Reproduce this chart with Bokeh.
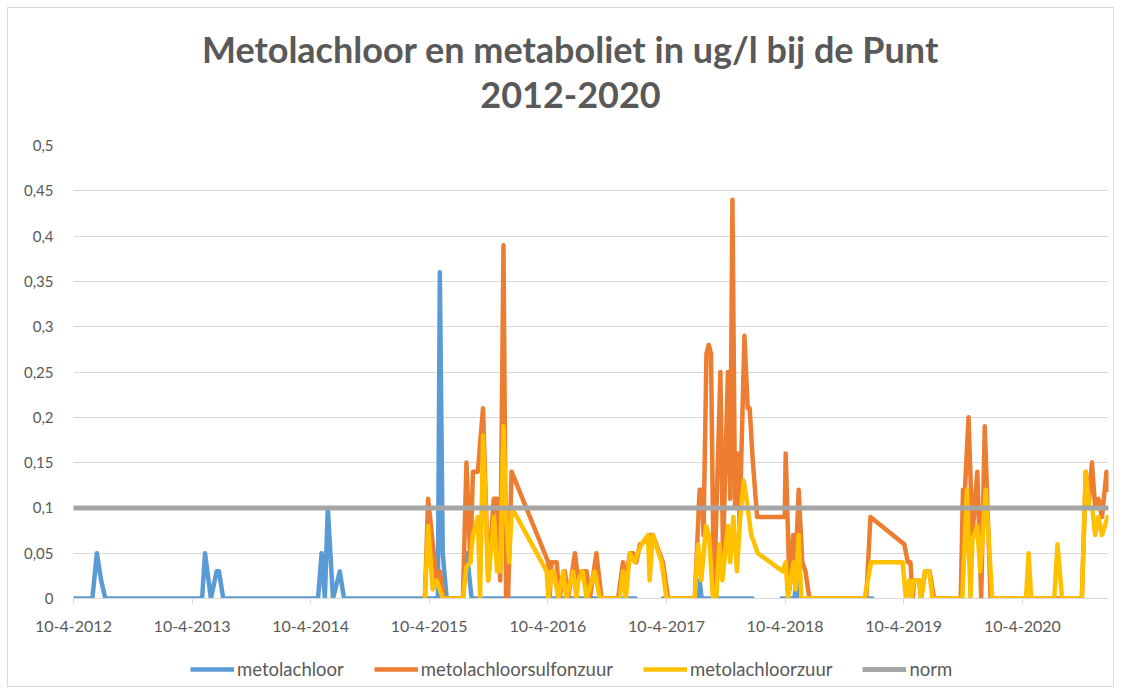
import numpy as np
import pandas as pd
from bokeh.plotting import figure
from bokeh.layouts import column
from bokeh.models import (Range1d, FixedTicker, CustomJSTickFormatter, Legend, LegendItem)
from bokeh.core.properties import value
from bokeh.embed import file_html
from bokeh.resources import INLINE

title_line1 = "Metolachloor en metaboliet in ug/l bij de Punt"
title_line2 = "2012-2020"

tick_dates = ["2012-04-10", "2013-04-10", "2014-04-10", "2015-04-10", "2016-04-10",
              "2017-04-10", "2018-04-10", "2019-04-10", "2020-04-10"]
tick_labels = ["10-4-2012", "10-4-2013", "10-4-2014", "10-4-2015", "10-4-2016",
               "10-4-2017", "10-4-2018", "10-4-2019", "10-4-2020"]
y_ticks = [0, 0.05, 0.1, 0.15, 0.2, 0.25, 0.3, 0.35, 0.4, 0.45, 0.5]
x_start, x_end = "2012-04-10", "2020-12-31"

# metolachloor (None = no measurement -> gap)
metolachloor_dates = [
    "2012-04-10", "2012-06-07", "2012-06-21", "2012-07-04", "2012-07-17",
    "2013-05-11", "2013-05-20", "2013-06-07", "2013-06-25", "2013-07-02", "2013-07-15",
    "2014-05-03", "2014-05-14", "2014-05-24", "2014-06-02", "2014-06-18", "2014-07-09", "2014-07-22",
    "2015-04-25", "2015-05-07", "2015-05-13", "2015-05-22", "2015-06-03", "2015-07-23",
    "2015-08-04", "2015-08-19",
    "2017-01-05", "2017-02-15",
    "2017-03-30", "2017-07-15", "2017-07-21", "2017-07-27", "2017-12-31", "2018-02-15",
    "2018-03-30", "2018-05-09", "2018-05-15", "2018-05-21", "2018-08-01",
    "2018-12-20", "2019-01-04"]
metolachloor = [
    0, 0, 0.05, 0.02, 0,
    0, 0.05, 0, 0.03, 0.03, 0,
    0, 0.05, 0, 0.1, 0, 0.03, 0,
    0, 0, 0.36, 0.05, 0, 0,
    0.05, 0,
    0, None,
    0, 0, 0.02, 0, 0, None,
    0, 0, 0.02, 0, None,
    0, 0]

sulfonzuur_dates = [
    "2015-03-28", "2015-04-07", "2015-05-03", "2015-05-13", "2015-05-26", "2015-07-23",
    "2015-08-03", "2015-08-15", "2015-08-23", "2015-09-07", "2015-09-23", "2015-10-09",
    "2015-10-26", "2015-11-05", "2015-11-15", "2015-11-25", "2015-12-03", "2015-12-09",
    "2015-12-20", "2016-04-11", "2016-04-15", "2016-04-21", "2016-05-07", "2016-05-15",
    "2016-06-01", "2016-06-11", "2016-07-02", "2016-07-12", "2016-07-23", "2016-08-07",
    "2016-08-17", "2016-09-06", "2016-09-22", "2016-11-12", "2016-11-27", "2016-12-06",
    "2016-12-18", "2016-12-28", "2017-01-07", "2017-01-18", "2017-01-24", "2017-02-17",
    "2017-02-27", "2017-03-30", "2017-04-15", "2017-07-06", "2017-07-21", "2017-07-29",
    "2017-08-02", "2017-08-11", "2017-08-18", "2017-08-25", "2017-09-03", "2017-09-23",
    "2017-10-01", "2017-10-16", "2017-10-23", "2017-10-30", "2017-11-07", "2017-11-15",
    "2017-11-21", "2017-12-06", "2017-12-16", "2017-12-22", "2018-01-01", "2018-01-14",
    "2018-04-09", "2018-04-12", "2018-04-24", "2018-05-05", "2018-05-12", "2018-05-22",
    "2018-06-02", "2018-06-12", "2018-06-24", "2018-12-16", "2018-12-29", "2019-04-12",
    "2019-04-23", "2019-05-01", "2019-05-08", "2019-05-13", "2019-05-28", "2019-06-03",
    "2019-06-15", "2019-06-29", "2019-07-13", "2019-10-03", "2019-10-10", "2019-10-16",
    "2019-10-27", "2019-11-08", "2019-11-23", "2019-12-05", "2019-12-16", "2020-01-03",
    "2020-10-10", "2020-10-22", "2020-10-30", "2020-11-10", "2020-11-20", "2020-11-30",
    "2020-12-11", "2020-12-25", "2020-12-30"]
sulfonzuur = [
    0, 0.11, 0.02, 0.03, 0, 0,
    0.15, 0.04, 0.14, 0.14, 0.21, 0.02,
    0.11, 0.11, 0.02, 0.39, 0, 0,
    0.14, 0.04, 0, 0.04, 0.04, 0,
    0.03, 0, 0.05, 0.02, 0.03, 0.03,
    0, 0.05, 0, 0, 0.04, 0.02,
    0.05, 0.05, 0.04, 0.06, 0.06, 0.07,
    0.07, 0.04, 0, 0, 0.12, 0.12,
    0.07, 0.27, 0.28, 0.27, 0, 0.25,
    0.05, 0.25, 0.11, 0.44, 0.1, 0.16,
    0.08, 0.29, 0.21, 0.21, 0.15, 0.09,
    0.09, 0.16, 0.01, 0.07, 0.03, 0.12,
    0.04, 0.03, 0, 0, 0.09, 0.06,
    0.04, 0.04, 0, 0.02, 0.02, 0,
    0.03, 0.03, 0, 0, 0.12, 0.12,
    0.2, 0.07, 0.14, 0, 0.19, 0,
    0, 0.14, 0.1, 0.15, 0.1, 0.11,
    0.09, 0.14, 0.12]

zuur_dates = [
    "2015-03-28", "2015-04-07", "2015-04-21", "2015-05-03", "2015-05-13", "2015-05-22",
    "2015-07-23", "2015-08-03", "2015-08-15", "2015-08-23", "2015-09-07", "2015-09-14",
    "2015-09-23", "2015-10-09", "2015-10-27", "2015-11-05", "2015-11-15", "2015-11-25",
    "2015-12-03", "2015-12-12", "2015-12-21", "2016-04-06", "2016-04-11", "2016-04-21",
    "2016-04-28", "2016-05-12", "2016-05-27", "2016-06-06", "2016-06-26", "2016-07-07",
    "2016-07-12", "2016-07-26", "2016-08-07", "2016-09-01", "2016-09-17", "2016-11-17",
    "2016-11-27", "2016-12-06", "2016-12-18", "2017-01-02", "2017-01-11", "2017-01-23",
    "2017-02-12", "2017-02-17", "2017-02-27", "2017-03-26", "2017-04-10", "2017-07-06",
    "2017-07-16", "2017-07-26", "2017-08-10", "2017-08-19", "2017-08-31", "2017-09-10",
    "2017-09-20", "2017-09-29", "2017-10-16", "2017-10-23", "2017-11-02", "2017-11-13",
    "2017-11-23", "2017-12-04", "2017-12-16", "2017-12-27", "2018-01-16", "2018-04-03",
    "2018-04-12", "2018-04-19", "2018-05-06", "2018-05-12", "2018-05-22", "2018-05-30",
    "2018-12-11", "2018-12-31", "2019-04-07", "2019-04-17", "2019-04-27", "2019-05-04",
    "2019-05-11", "2019-05-28", "2019-06-03", "2019-06-15", "2019-06-28", "2019-07-08",
    "2019-10-08", "2019-10-22", "2019-11-02", "2019-11-08", "2019-11-23", "2019-12-02",
    "2019-12-19", "2020-01-08", "2020-04-21", "2020-04-29", "2020-05-07", "2020-07-17",
    "2020-07-27", "2020-08-10", "2020-10-10", "2020-10-22", "2020-11-02", "2020-11-11",
    "2020-11-20", "2020-11-30", "2020-12-11", "2020-12-28"]
zuur = [
    0, 0.08, 0.01, 0.02, 0.01, 0,
    0, 0.035, 0.04, 0.07, 0.09, 0,
    0.18, 0.02, 0.09, 0.03, 0.03, 0.19,
    0.09, 0.04, 0.1, 0.03, 0, 0.03,
    0.03, 0, 0.03, 0, 0.03, 0,
    0.02, 0.03, 0, 0.03, 0, 0,
    0.03, 0, 0.05, 0.04, 0.05, 0.06,
    0.07, 0.02, 0.07, 0.04, 0, 0,
    0.06, 0.02, 0.08, 0.07, 0, 0,
    0.06, 0.02, 0.08, 0.04, 0.09, 0.03,
    0.09, 0.13, 0.1, 0.07, 0.05, 0.03,
    0.04, 0, 0.04, 0.01, 0.07, 0,
    0, 0.04, 0.04, 0, 0.02, 0,
    0.02, 0.02, 0, 0.03, 0.03, 0,
    0, 0.12, 0, 0.065, 0.08, 0.03,
    0.12, 0, 0, 0.05, 0, 0,
    0.06, 0, 0, 0.14, 0.1, 0.1,
    0.07, 0.09, 0.07, 0.09]

norm_dates = ["2012-04-10", "2020-12-31"]
norm = [0.1, 0.1]

series_names = ["metolachloor", "metolachloorsulfonzuur", "metolachloorzuur", "norm"]
series_colors = ["#5b9bd5", "#ed7d31", "#ffc000", "#a5a5a5"]


def to_ms(dates):
    return pd.to_datetime(dates).values.astype("datetime64[ms]").astype("int64").astype(float)


def to_vals(vals):
    return np.array([np.nan if v is None else v for v in vals], dtype=float)


TXT = "#595959"
FONT = "Lato"
W = 1105

# ---------- title strip (frame is aligned with the chart frame: x 65..1100) ----------
pt = figure(width=W, height=120, output_backend="svg", toolbar_location=None,
            x_range=Range1d(65, 1100), y_range=Range1d(0, 120), min_border=0,
            x_axis_location=None, y_axis_location=None)
pt.grid.visible = False
pt.outline_line_color = None
pt.text(x=[562, 562], y=[80, 34], text=[title_line1, title_line2],
        text_font=value(FONT), text_font_size=value("36px"), text_font_style="bold",
        text_color=TXT, text_align="center", text_baseline="alphabetic")

# ---------- main chart ----------
p = figure(frame_width=1035, frame_height=453, output_backend="svg", toolbar_location=None,
           x_range=Range1d(to_ms([x_start])[0], to_ms([x_end])[0]),
           y_range=Range1d(0, 0.5),
           min_border_left=65, min_border_right=5, min_border_top=17, min_border_bottom=45,
           background_fill_color="white", border_fill_color="white")
p.outline_line_color = None

tick_ms = to_ms(tick_dates)
p.xaxis.ticker = FixedTicker(ticks=list(tick_ms))
p.xaxis.major_label_overrides = {float(t): lab for t, lab in zip(tick_ms, tick_labels)}
p.xaxis.axis_line_color = "#d9d9d9"
p.xaxis.major_tick_line_color = "#d9d9d9"
p.xaxis.major_tick_out = 5
p.xaxis.major_tick_in = 0
p.xaxis.minor_tick_line_color = None
p.xaxis.major_label_text_font = FONT
p.xaxis.major_label_text_font_size = "16px"
p.xaxis.major_label_text_color = TXT
p.xaxis.major_label_standoff = 17

p.yaxis.ticker = FixedTicker(ticks=y_ticks)
p.yaxis.formatter = CustomJSTickFormatter(code="""
    var s = tick.toFixed(2).replace(/0+$/, '').replace(/\\.$/, '');
    return s.replace('.', ',');
""")
p.yaxis.axis_line_color = None
p.yaxis.major_tick_line_color = None
p.yaxis.minor_tick_line_color = None
p.yaxis.major_label_text_font = FONT
p.yaxis.major_label_text_font_size = "15px"
p.yaxis.major_label_text_color = TXT
p.yaxis.major_label_standoff = 14

p.xgrid.grid_line_color = None
p.ygrid.grid_line_color = "#d9d9d9"
p.ygrid.grid_line_width = 1

LW = 4.5
all_dates = [metolachloor_dates, sulfonzuur_dates, zuur_dates, norm_dates]
all_vals = [metolachloor, sulfonzuur, zuur, norm]
for d, v, c, name in zip(all_dates, all_vals, series_colors, series_names):
    p.line(to_ms(d), to_vals(v), line_color=c,
           line_width=5 if name == "norm" else LW, line_join="round", line_cap="round")

# ---------- legend strip ----------
pl = figure(width=W, height=43, output_backend="svg", toolbar_location=None,
            x_range=Range1d(0, 1), y_range=Range1d(0, 1), min_border=0,
            x_axis_location=None, y_axis_location=None)
pl.grid.visible = False
pl.outline_line_color = None
items = []
for c, name in zip(series_colors, series_names):
    # proxy renderer (no visible data) that only supplies the legend swatch
    r = pl.line(x=[np.nan], y=[np.nan], line_color=c,
                line_width=5 if name == "norm" else LW)
    items.append(LegendItem(label=name, renderers=[r]))
legend = Legend(items=items, orientation="horizontal", location=(117, 6),
                label_text_font=FONT, label_text_font_size="18.5px", label_text_color=TXT,
                glyph_width=44, label_standoff=3, spacing=30,
                border_line_color=None, background_fill_alpha=0, margin=0, padding=5)
pl.add_layout(legend, "center")

layout = column(pt, p, pl, spacing=0,
                styles={"border": "1px solid #d9d9d9", "margin": "7px"})

open("out.html", "w").write(file_html(layout, INLINE))
